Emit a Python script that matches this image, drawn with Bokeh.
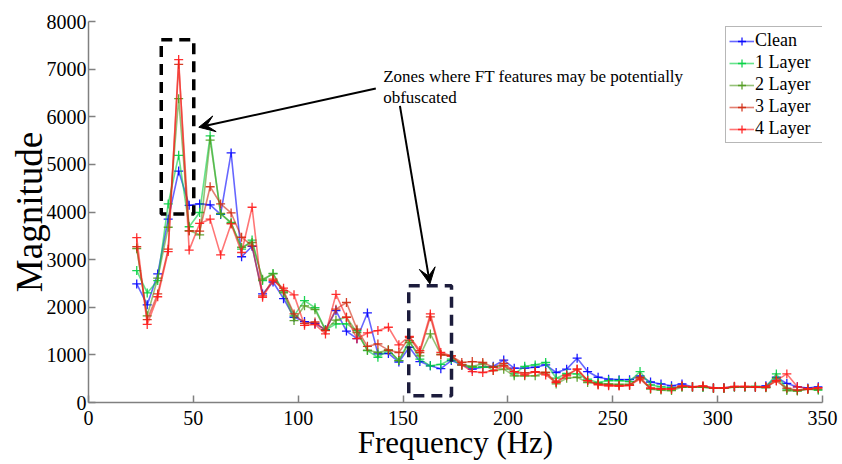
from bokeh.plotting import figure
from bokeh.models import Range1d, Legend, LegendItem, Arrow, VeeHead, Label, BoxAnnotation
from bokeh.embed import file_html
from bokeh.resources import INLINE

freq = [23, 28, 33, 38, 43, 48, 53, 58, 63, 68, 73, 78, 83, 88, 93, 98, 103, 108, 113, 118,
        123, 128, 133, 138, 143, 148, 153, 158, 163, 168, 173, 178, 183, 188, 193, 198, 203, 208,
        213, 218, 223, 228, 233, 238, 243, 248, 253, 258, 263, 268, 273, 278, 283, 288, 293, 298,
        303, 308, 313, 318, 323, 328, 333, 338, 343, 348]

clean = [2490, 2050, 2700, 3850, 4860, 4140, 4170, 4150, 3950, 5240, 3060, 3280, 2280, 2530, 2180, 1790,
         1700, 1660, 1530, 1930, 1500, 1340, 1880, 1020, 1030, 850, 1160, 860, 770, 710, 880, 790,
         700, 740, 760, 890, 720, 720, 740, 790, 630, 700, 930, 650, 530, 490, 480, 480, 560, 430,
         390, 350, 390, 330, 330, 310, 310, 330, 330, 320, 350, 530, 400, 330, 305, 330]
layer1 = [2770, 2300, 2560, 4170, 5190, 3690, 3990, 5600, 3960, 3780, 3220, 3410, 2560, 2710, 2320, 1820,
          2140, 1990, 1520, 1650, 1650, 1510, 1090, 950, 1100, 880, 1300, 910, 770, 800, 910, 790,
          740, 740, 740, 780, 600, 760, 790, 840, 510, 610, 600, 490, 420, 460, 460, 440, 650, 370,
          330, 310, 330, 330, 320, 300, 300, 330, 330, 340, 320, 600, 280, 250, 290, 260]
layer2 = [3230, 1820, 2610, 3680, 6380, 3610, 3520, 5510, 3970, 3760, 3260, 3360, 2590, 2700, 2300, 1720,
          2030, 1950, 1520, 1730, 1790, 1470, 1100, 1050, 1100, 880, 1260, 980, 1440, 1010, 980, 790,
          760, 810, 670, 700, 560, 560, 560, 630, 390, 510, 530, 420, 400, 390, 380, 380, 510, 280,
          260, 250, 320, 320, 320, 300, 300, 320, 320, 320, 310, 510, 250, 240, 280, 270]
layer3 = [3270, 1740, 2280, 3220, 7100, 3600, 3600, 4530, 4170, 3980, 3470, 3290, 2240, 2590, 2350, 1860,
          1660, 1690, 1510, 1960, 2100, 1540, 1180, 1230, 1100, 1050, 1370, 1050, 1800, 1000, 980, 840,
          860, 840, 740, 820, 650, 620, 640, 630, 430, 580, 700, 460, 380, 370, 350, 360, 530, 300,
          290, 290, 340, 330, 340, 300, 300, 330, 330, 320, 320, 450, 300, 260, 280, 300]
layer4 = [3460, 1640, 2220, 3170, 7200, 3200, 3760, 3850, 3100, 3750, 3150, 4100, 2210, 2560, 2400, 2260,
          1620, 1640, 1440, 2270, 1790, 1340, 1460, 1510, 1580, 1210, 1390, 1090, 1860, 1050, 980, 790,
          650, 630, 670, 770, 650, 580, 650, 580, 420, 560, 700, 460, 370, 350, 350, 360, 490, 300,
          280, 280, 350, 330, 350, 310, 310, 340, 340, 330, 330, 460, 600, 330, 290, 310]

series_names = ["Clean", "1 Layer", "2 Layer", "3 Layer", "4 Layer"]
series_values = [clean, layer1, layer2, layer3, layer4]
series_colors = ["#0000ff", "#00d040", "#4f9a1e", "#d02a10", "#ff1a1a"]

x_ticks = [0, 50, 100, 150, 200, 250, 300, 350]
y_ticks = [0, 1000, 2000, 3000, 4000, 5000, 6000, 7000, 8000]

# annotation zones: (left, right, bottom, top, colour)
zones = [(34.7, 50.2, 3960, 7615, "#000000"), (152.7, 173.1, 143, 2454, "#1c1c3c")]
annot_text = ["Zones where FT features may be potentially", "obfuscated"]

FONT = "Liberation Serif"

p = figure(frame_width=734, frame_height=381, x_range=Range1d(0, 350), y_range=Range1d(0, 8000),
           output_backend="svg", toolbar_location=None,
           min_border_left=88, min_border_right=20, min_border_top=21, min_border_bottom=62)
p.outline_line_color = None
p.xgrid.visible = False
p.ygrid.visible = False
p.background_fill_color = "white"
p.border_fill_color = "white"

p.xaxis.ticker = x_ticks
p.yaxis.ticker = y_ticks
for ax in (p.xaxis, p.yaxis):
    ax.axis_line_color = "#808080"
    ax.axis_line_width = 1.5
    ax.major_tick_line_color = "#808080"
    ax.major_tick_line_width = 1.5
    ax.major_tick_in = 7
    ax.major_tick_out = 0
    ax.minor_tick_line_color = None
    ax.major_label_text_font = FONT
    ax.major_label_text_font_size = "20px"
    ax.major_label_text_color = "black"
    ax.axis_label_text_font = FONT
    ax.axis_label_text_font_style = "normal"
    ax.axis_label_text_color = "black"
p.xaxis.axis_label = "Frequency (Hz)"
p.yaxis.axis_label = "Magnitude"
p.xaxis.axis_label_text_font_size = "31px"
p.yaxis.axis_label_text_font_size = "37px"
p.xaxis.major_label_standoff = 8
p.yaxis.major_label_standoff = 2
p.xaxis.axis_label_standoff = -3
p.yaxis.axis_label_standoff = -6

items = []
for name, vals, col in zip(series_names, series_values, series_colors):
    r1 = p.line(freq, vals, line_color=col, line_width=1.6, line_alpha=0.6)
    r2 = p.scatter(freq, vals, marker="cross", size=9, line_color=col, line_width=1.3, line_alpha=0.9)
    items.append(LegendItem(label=name, renderers=[r1, r2]))

for (l, r, b, t, c) in zones:
    p.add_layout(BoxAnnotation(left=l, right=r, bottom=b, top=t, fill_color=None, fill_alpha=0,
                               line_color=c, line_alpha=1.0, line_width=3.5, line_dash="11 7"))

p.add_layout(Arrow(end=VeeHead(size=16, fill_color="black", line_color="black"),
                   x_start=137, y_start=6592, x_end=52.6, y_end=5780,
                   line_width=2, line_color="black"))
p.add_layout(Arrow(end=VeeHead(size=16, fill_color="black", line_color="black"),
                   x_start=148.5, y_start=6230, x_end=162.8, y_end=2490,
                   line_width=2, line_color="black"))

p.add_layout(Label(x=140.5, y=6844, text=annot_text[0], text_font=FONT, text_font_size="17px",
                   text_color="black", text_baseline="alphabetic"))
p.add_layout(Label(x=140.5, y=6403, text=annot_text[1], text_font=FONT, text_font_size="17px",
                   text_color="black", text_baseline="alphabetic"))

legend = Legend(items=items, location=(637, 259))
legend.label_text_font = FONT
legend.label_text_font_size = "18px"
legend.label_text_color = "black"
legend.glyph_width = 25
legend.glyph_height = 20
legend.label_height = 20
legend.label_width = 80
legend.label_standoff = 1
legend.spacing = 1
legend.padding = 3
legend.margin = 0
legend.border_line_color = "#707070"
legend.border_line_width = 1
legend.background_fill_color = "white"
legend.background_fill_alpha = 1
p.add_layout(legend)

open("out.html", "w").write(file_html(p, INLINE))
